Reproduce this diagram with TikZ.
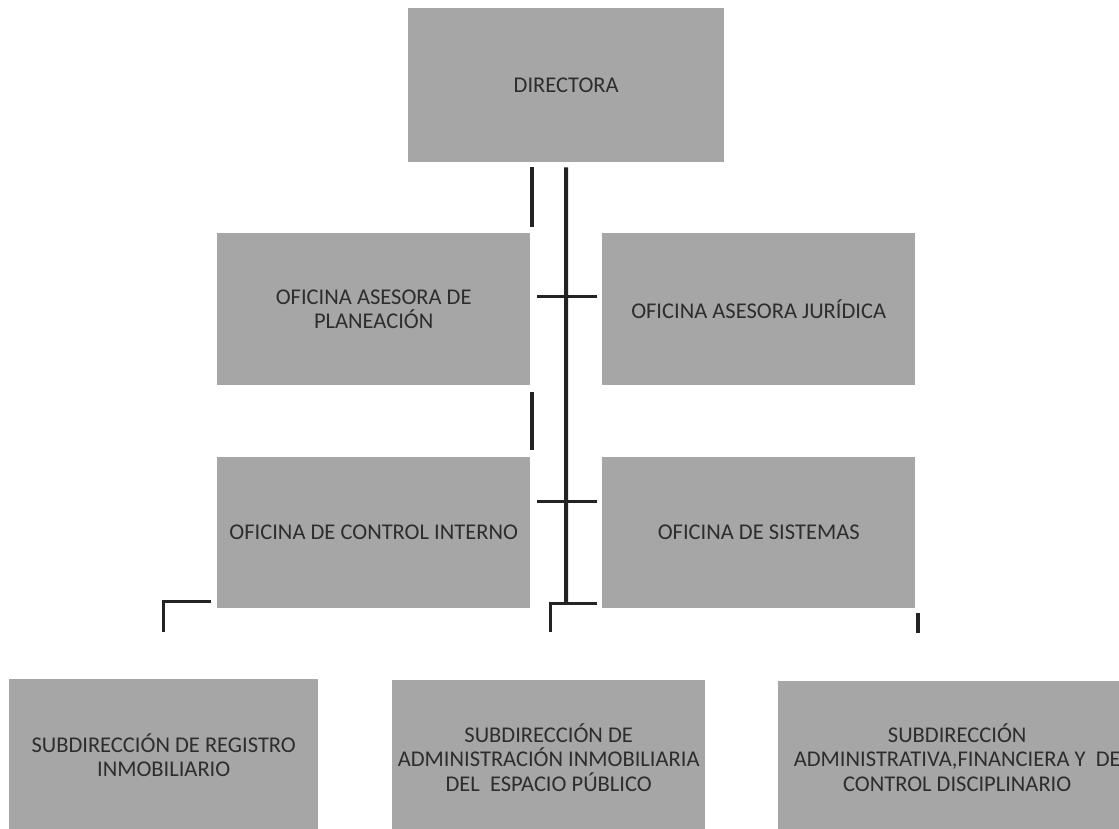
\documentclass[tikz,border=0pt]{standalone}
\usepackage{fontspec}
\setmainfont{Carlito}
\definecolor{boxgray}{RGB}{166,166,166}
\definecolor{txtgray}{RGB}{45,45,45}
\definecolor{linegray}{RGB}{35,35,35}
\tikzset{
  unit/.style={draw=none, fill=boxgray, anchor=north west, inner sep=0pt,
    align=center, text=txtgray,
    font=\fontsize{22.5}{24.5}\selectfont},
  spine/.style={draw=linegray, line width=4pt},
  thin/.style={draw=linegray, line width=3.3pt},
  bar/.style={draw=linegray, line width=3pt},
}
\begin{document}
\begin{tikzpicture}[x=1pt,y=-1pt]
\useasboundingbox (0,0) rectangle (1119,828);
\clip (0,0) rectangle (1119,828);
\fill[white] (0,0) rectangle (1119,828);

% boxes
\node[unit, minimum width=316pt, minimum height=154pt] (dir) at (408,8) {DIRECTORA};
\node[unit, minimum width=313pt, minimum height=152pt] (plan) at (217,233) {OFICINA ASESORA DE\\PLANEACIÓN};
\node[unit, minimum width=313pt, minimum height=152pt] (jur) at (602,233) {OFICINA ASESORA JURÍDICA};
\node[unit, minimum width=313pt, minimum height=151pt] (ctrl) at (217,457) {OFICINA DE CONTROL INTERNO};
\node[unit, minimum width=313pt, minimum height=151pt] (sis) at (602,457) {OFICINA DE SISTEMAS};
\node[unit, minimum width=309pt, minimum height=152pt] (reg) at (9,679) {SUBDIRECCIÓN DE REGISTRO\\INMOBILIARIO};
\node[unit, minimum width=313pt, minimum height=154pt] (adm) at (392,680) {SUBDIRECCIÓN DE\\ADMINISTRACIÓN INMOBILIARIA\\DEL\ \ ESPACIO PÚBLICO};
\node[unit, minimum width=358pt, minimum height=152pt] (fin) at (778,681) {SUBDIRECCIÓN\\ADMINISTRATIVA,FINANCIERA Y\ \ DE\\CONTROL DISCIPLINARIO};

% connector end points
\coordinate (sTop) at ([yshift=-5pt]dir.south);
\coordinate (sBot) at (566,603);
\coordinate (c1L) at (537,296);
\coordinate (c1R) at (597,296);
\coordinate (c2L) at (537,501);
\coordinate (c2R) at (597,501);
\coordinate (bR) at (597,603);
\coordinate (bL) at (550,603);
\coordinate (bD) at (550,632);
\coordinate (t1a) at (532,167);
\coordinate (t1b) at (532,227);
\coordinate (t2a) at (532,392);
\coordinate (t2b) at (532,450);
\coordinate (lA) at (211,601);
\coordinate (lB) at (163,601);
\coordinate (lC) at (163,632);
\coordinate (rA) at (918,613);
\coordinate (rB) at (918,633);

% connectors
\draw[spine] (sTop) -- (sBot);
\draw[bar] (c1L) -- (c1R);
\draw[bar] (c2L) -- (c2R);
\draw[bar] (bR) -- (bL) -- (bD);
\draw[thin] (t1a) -- (t1b);
\draw[thin] (t2a) -- (t2b);
\draw[bar] (lA) -- (lB) -- (lC);
\draw[thin] (rA) -- (rB);
\end{tikzpicture}
\end{document}
